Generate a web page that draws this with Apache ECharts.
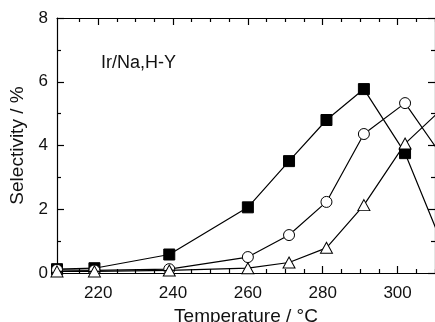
<!DOCTYPE html>
<html lang="en">
<head>
    <meta charset="UTF-8">
    <title>Ir/Na,H-Y selectivity</title>
    <script src="https://cdn.jsdelivr.net/npm/echarts@6/dist/echarts.min.js"></script>
    <style>
        html, body { margin: 0; padding: 0; background: #fff; }
        #main { width: 435px; height: 322px; }
    </style>
</head>
<body>
    <div id="main"></div>
    <script>
        // data (temperature in °C, selectivity in %)
        var squareData = [[209, 0.12], [219, 0.15], [239, 0.58], [260, 2.06], [271, 3.51], [281, 4.8], [291, 5.77], [302, 3.76], [312, 0.89]];
        var circleData = [[209, 0.1], [219, 0.08], [239, 0.12], [260, 0.5], [271, 1.19], [281, 2.23], [291, 4.36], [302, 5.33], [312, 3.65]];
        var triangleData = [[209, 0.05], [219, 0.05], [239, 0.08], [260, 0.15], [271, 0.33], [281, 0.79], [291, 2.13], [302, 4.06], [312, 5.16]];

        var xMajor = [220, 240, 260, 280, 300];
        var xMinor = [215, 225, 230, 235, 245, 250, 255, 265, 270, 275, 285, 290, 295, 305, 310];

        var font = "'Liberation Sans', Arial, sans-serif";
        var myChart = echarts.init(document.getElementById('main'));

        function xAx(pos, ticks, len, withLabel, withLine) {
            return {
                type: 'value', position: pos, min: 209, max: 310,
                axisLine: { show: withLine, onZero: false, lineStyle: { color: '#000', width: 1.2 } },
                axisTick: { show: true, inside: true, length: len, customValues: ticks, lineStyle: { color: '#000', width: 1.2 } },
                axisLabel: withLabel
                    ? { show: true, customValues: xMajor, margin: 12, fontSize: 17, color: '#111', fontFamily: font }
                    : { show: false },
                splitLine: { show: false },
                name: withLabel ? 'Temperature / °C' : '',
                nameLocation: 'middle',
                nameGap: 33,
                nameTextStyle: { fontSize: 19, color: '#111', fontFamily: font }
            };
        }

        function yAx(pos, withLabel) {
            return {
                type: 'value', position: pos, min: 0, max: 8, interval: 2,
                axisLine: { show: true, onZero: false, lineStyle: { color: '#000', width: 1.2 } },
                axisTick: { show: true, inside: true, length: 7, lineStyle: { color: '#000', width: 1.2 } },
                minorTick: { show: true, splitNumber: 2, length: 4, lineStyle: { color: '#000', width: 1.2 } },
                axisLabel: { show: withLabel, margin: 9, fontSize: 17, color: '#111', fontFamily: font },
                splitLine: { show: false },
                name: withLabel ? 'Selectivity / %' : '',
                nameLocation: 'middle',
                nameGap: 27,
                nameTextStyle: { fontSize: 19, color: '#111', fontFamily: font }
            };
        }

        var lineStyle = { color: '#000', width: 1.2 };

        var option = {
            animation: false,
            grid: { left: 57, top: 18, right: 0, bottom: 49, outerBoundsMode: 'none' },
            title: {
                text: 'Ir/Na,H-Y', left: 96, top: 49,
                textStyle: { fontSize: 18, fontWeight: 'normal', color: '#111', fontFamily: font }
            },
            xAxis: [
                xAx('bottom', xMajor, 7, true, true),
                xAx('bottom', xMinor, 4, false, false),
                xAx('top', xMajor, 7, false, true),
                xAx('top', xMinor, 4, false, false)
            ],
            yAxis: [yAx('left', true), yAx('right', false)],
            series: [
                {
                    type: 'line', data: squareData, symbol: 'rect', symbolSize: 11,
                    lineStyle: lineStyle, itemStyle: { color: '#000', borderColor: '#000', borderWidth: 1 }, z: 3
                },
                {
                    type: 'line', data: circleData, symbol: 'circle', symbolSize: 11,
                    lineStyle: lineStyle, itemStyle: { color: '#fff', borderColor: '#000', borderWidth: 1 }, z: 4
                },
                {
                    type: 'line', data: triangleData, symbol: 'triangle', symbolSize: [12, 11],
                    lineStyle: lineStyle, itemStyle: { color: '#fff', borderColor: '#000', borderWidth: 1 }, z: 5
                }
            ]
        };

        myChart.setOption(option);
    </script>
</body>
</html>
